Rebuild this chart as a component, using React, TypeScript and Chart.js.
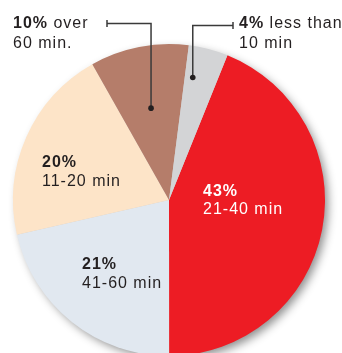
import React, { useEffect, useRef } from "react";
import { Chart, registerables } from "chart.js";

Chart.register(...registerables);

const categories = ["21-40 min", "41-60 min", "11-20 min", "over 60 min.", "less than 10 min"];
const values = [43, 21, 20, 10, 4];
const sliceColors = ["#ED1C24", "#E1E8F0", "#FDE4C8", "#B57D6A", "#D3D4D6"];
const labelFirstLineRest = ["", "", "", " over", " less than"];
const labelSecondLine = ["21-40 min", "41-60 min", "11-20 min", "60 min.", "10 min"];
const labelColors = ["#FFFFFF", "#231F20", "#231F20", "#231F20", "#231F20"];

// layout for labels (positions are layout, not data)
const labelLayout = [
  { x: 203, y: 196, lh: 17.5 },
  { x: 82, y: 269, lh: 18.5 },
  { x: 42, y: 167, lh: 19 },
  { x: 13, y: 28, lh: 20 },
  { x: 239, y: 28, lh: 19.5 },
];
const leaderLayout: Record<number, { y: number; endX: number; frac: number; angFrac: number }> = {
  3: { y: 23.5, endX: 107, frac: 0.6, angFrac: 0.5 },
  4: { y: 25.5, endX: 233, frac: 0.8, angFrac: 0.25 },
};

const FONT = '"Liberation Sans", Arial, Helvetica, sans-serif';

const shadowPlugin = {
  id: "pieShadow",
  beforeDatasetsDraw(chart: any) {
    const meta = chart.getDatasetMeta(0);
    const arc = meta.data[0];
    if (!arc) return;
    const { x, y, outerRadius } = arc.getProps(["x", "y", "outerRadius"], true);
    const ctx = chart.ctx;
    ctx.save();
    ctx.shadowColor = "rgba(0,0,0,0.45)";
    ctx.shadowBlur = 10;
    ctx.shadowOffsetX = 4;
    ctx.shadowOffsetY = 4;
    ctx.fillStyle = "#cccccc";
    ctx.beginPath();
    ctx.arc(x, y, outerRadius - 1, 0, Math.PI * 2);
    ctx.fill();
    ctx.restore();
  },
};

const labelPlugin = {
  id: "pieLabels",
  afterDatasetsDraw(chart: any) {
    const ctx = chart.ctx;
    const meta = chart.getDatasetMeta(0);
    ctx.save();
    (ctx as any).letterSpacing = "1px";
    ctx.textBaseline = "alphabetic";
    ctx.textAlign = "left";
    values.forEach((v, i) => {
      const arc = meta.data[i];
      const pos = labelLayout[i];
      const leader = leaderLayout[i];
      if (leader && arc) {
        const { x, y, startAngle, endAngle, outerRadius } = arc.getProps(
          ["x", "y", "startAngle", "endAngle", "outerRadius"],
          true
        );
        const ang = startAngle + (endAngle - startAngle) * leader.angFrac;
        const dx = x + Math.cos(ang) * outerRadius * leader.frac;
        const dy = y + Math.sin(ang) * outerRadius * leader.frac;
        ctx.strokeStyle = "#3a3a3a";
        ctx.lineWidth = 1.5;
        ctx.beginPath();
        ctx.moveTo(dx, dy);
        ctx.lineTo(dx, leader.y);
        ctx.lineTo(leader.endX, leader.y);
        ctx.stroke();
        ctx.beginPath();
        ctx.moveTo(leader.endX, leader.y - 3.5);
        ctx.lineTo(leader.endX, leader.y + 3.5);
        ctx.stroke();
        ctx.fillStyle = "#231F20";
        ctx.beginPath();
        ctx.arc(dx, dy, 2.8, 0, Math.PI * 2);
        ctx.fill();
      }
      ctx.fillStyle = labelColors[i];
      ctx.font = `bold 16px ${FONT}`;
      const bold = `${v}%`;
      ctx.fillText(bold, pos.x, pos.y);
      const w = ctx.measureText(bold).width;
      ctx.font = `16px ${FONT}`;
      if (labelFirstLineRest[i]) ctx.fillText(labelFirstLineRest[i], pos.x + w, pos.y);
      ctx.fillText(labelSecondLine[i], pos.x, pos.y + pos.lh);
    });
    ctx.restore();
  },
};

export default function App() {
  const ref = useRef<HTMLCanvasElement>(null);
  useEffect(() => {
    if (!ref.current) return;
    const chart = new Chart(ref.current, {
      type: "pie",
      data: {
        labels: categories,
        datasets: [
          {
            data: values,
            backgroundColor: sliceColors,
            borderWidth: 0,
            radius: 156,
          } as any,
        ],
      },
      options: {
        responsive: false,
        animation: false,
        rotation: 22,
        layout: { padding: { left: 0, right: 4, top: 47, bottom: 0 } },
        plugins: { legend: { display: false }, tooltip: { enabled: false } },
      },
      plugins: [shadowPlugin, labelPlugin],
    });
    return () => chart.destroy();
  }, []);
  return (
    <div style={{ position: "absolute", left: 0, top: 0, width: 342, height: 353, background: "#fff" }}>
      <canvas ref={ref} width={342} height={353} />
    </div>
  );
}
